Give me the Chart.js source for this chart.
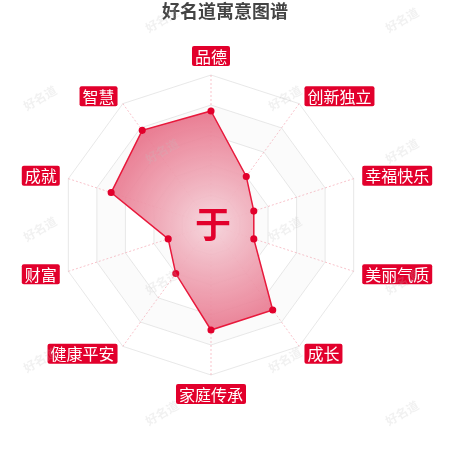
<!DOCTYPE html>
<html>
<head>
<meta charset="utf-8">
<script src="https://cdn.jsdelivr.net/npm/chart.js@4.4.1/dist/chart.umd.min.js"></script>
<style>
  html, body { margin: 0; padding: 0; background: #fff; }
  #wrap { width: 450px; height: 450px; position: relative; }
</style>
</head>
<body>
<div id="wrap"><canvas id="chart" width="450" height="450"></canvas></div>
<script>
const title = '好名道寓意图谱';
const surname = '于';
const categories = ['品德', '创新独立', '幸福快乐', '美丽气质', '成长', '家庭传承', '健康平安', '财富', '成就', '智慧'];
const scores = [76, 40, 30, 30, 70, 70, 40, 30, 70, 78];
const ringValues = [20, 40, 60, 80, 100];

const RED = '#e2002c';
const FONT = '"Noto Sans CJK SC", "Noto Sans", sans-serif';

// alternating grey bands between the rings
const bandsPlugin = {
  id: 'bands',
  beforeDatasetsDraw(chart) {
    const r = chart.scales.r;
    const c = chart.ctx;
    const n = categories.length;
    const ring = (v) => {
      const d = r.getDistanceFromCenterForValue(v);
      const pts = [];
      for (let i = 0; i < n; i++) pts.push(r.getPointPosition(i, d));
      return pts;
    };
    c.save();
    ringValues.forEach((v, k) => {
      if (k % 2 === 0) return;
      const outer = ring(v);
      const inner = ring(ringValues[k - 1]);
      c.beginPath();
      outer.forEach((p, i) => (i ? c.lineTo(p.x, p.y) : c.moveTo(p.x, p.y)));
      c.closePath();
      inner.reverse().forEach((p, i) => (i ? c.lineTo(p.x, p.y) : c.moveTo(p.x, p.y)));
      c.closePath();
      c.fillStyle = 'rgba(200,200,200,0.08)';
      c.fill('evenodd');
    });
    c.restore();
  },
};

const decoPlugin = {
  id: 'deco',
  afterDraw(chart) {
    const r = chart.scales.r;
    const c = chart.ctx;
    c.save();

    // title
    c.font = 'bold 18px ' + FONT;
    c.fillStyle = '#444';
    c.textAlign = 'center';
    c.textBaseline = 'middle';
    c.fillText(title, 225, 11);

    // surname in the middle
    c.font = 'bold 36px ' + FONT;
    c.fillStyle = RED;
    c.fillText(surname, r.xCenter + 2, r.yCenter - 1);

    // category labels on red boxes
    c.font = '16px ' + FONT;
    categories.forEach((label, i) => {
      const p = r.getPointPosition(i, r.drawingArea + 9);
      const dx = p.x - r.xCenter;
      const dy = p.y - r.yCenter;
      const w = c.measureText(label).width + 6;
      const h = 20;
      let x = p.x;
      if (Math.abs(dx) < 2) x = p.x - w / 2;
      else if (dx < 0) x = p.x - w;
      let y = p.y - h / 2;
      if (Math.abs(dx) < 2) y = dy < 0 ? p.y - h : p.y;
      c.fillStyle = RED;
      c.beginPath();
      c.roundRect(x, y, w, h, 2);
      c.fill();
      c.fillStyle = '#fff';
      c.textAlign = 'center';
      c.fillText(label, x + w / 2, y + h / 2 + 0.5);
    });

    // watermark
    c.font = 'bold 12px ' + FONT;
    c.fillStyle = 'rgba(190,190,190,0.22)';
    const cols = [40, 162, 285, 402];
    cols.forEach((cx, k) => {
      const start = k % 2 === 0 ? 98 : 20;
      for (let cy = start; cy < 470; cy += 131) {
        c.save();
        c.translate(cx, cy);
        c.rotate(-Math.PI / 6);
        c.fillText('好名道', 0, 0);
        c.restore();
      }
    });
    c.restore();
  },
};

new Chart(document.getElementById('chart'), {
  type: 'radar',
  data: {
    labels: categories,
    datasets: [{
      data: scores,
      backgroundColor: (ctx) => {
        const r = ctx.chart.scales.r;
        if (!r || !Number.isFinite(r.xCenter) || !(r.drawingArea > 0)) return 'rgba(230,100,120,0.6)';
        const g = ctx.chart.ctx.createRadialGradient(r.xCenter, r.yCenter, 0, r.xCenter, r.yCenter, r.drawingArea * 0.85);
        g.addColorStop(0, 'rgba(245,212,219,0.95)');
        g.addColorStop(1, 'rgba(230,100,126,0.9)');
        return g;
      },
      borderColor: '#e8193c',
      borderWidth: 1.5,
      pointRadius: 2.8,
      pointBackgroundColor: RED,
      pointBorderColor: RED,
    }],
  },
  options: {
    responsive: false,
    animation: false,
    devicePixelRatio: 1,
    layout: { padding: { left: 61, right: 89, top: 75, bottom: 75 } },
    plugins: {
      legend: { display: false },
      tooltip: { enabled: false },
    },
    scales: {
      r: {
        min: 0,
        max: 100,
        ticks: { display: false, stepSize: 20 },
        pointLabels: { display: false },
        grid: {
          color: 'rgba(190,190,190,0.35)',
          borderDash: [1, 3],
          lineWidth: 1,
        },
        angleLines: {
          color: 'rgba(230,40,70,0.28)',
          borderDash: [2, 2],
          lineWidth: 1,
        },
      },
    },
  },
  plugins: [bandsPlugin, decoPlugin],
});
</script>
</body>
</html>
